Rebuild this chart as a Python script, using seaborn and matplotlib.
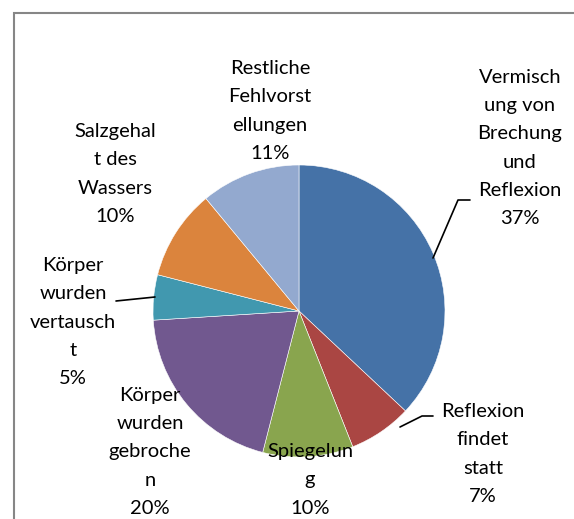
import matplotlib
matplotlib.use("Agg")
import matplotlib.pyplot as plt
import seaborn as sns

# slice data (clockwise from 12 o'clock)
labels = [
    "Vermisch\nung von\nBrechung\nund\nReflexion",
    "Reflexion\nfindet\nstatt",
    "Spiegelun\ng",
    "Körper\nwurden\ngebroche\nn",
    "Körper\nwurden\nvertausch\nt",
    "Salzgehal\nt des\nWassers",
    "Restliche\nFehlvorst\nellungen",
]
percent = [37, 7, 10, 20, 5, 10, 11]
colors = ["#4572A7", "#AA4643", "#89A54E", "#71588F", "#4198AF", "#DB843D", "#93A9CF"]

# label centres in pixel coords (from top-left)
label_pos = [(520, 148), (483, 454), (310, 480), (150, 452), (73, 322), (115, 174), (270, 111)]

W, H = 574, 519
sns.set_theme(style="white")
plt.rcParams["font.family"] = ["Lato", "DejaVu Sans"]

fig = plt.figure(figsize=(W / 100, H / 100), dpi=100)
ax = fig.add_axes([0, 0, 1, 1])


def fy(y):
    return H - y


ax.pie(percent, colors=colors, startangle=90, counterclock=False,
       center=(299, fy(311)), radius=146,
       wedgeprops=dict(edgecolor="white", linewidth=0.4))

# pie() resets limits, so set them afterwards
ax.set_xlim(0, W)
ax.set_ylim(0, H)
ax.set_aspect("equal")
ax.axis("off")

for lab, p, (x, y) in zip(labels, percent, label_pos):
    ax.text(x, fy(y), f"{lab}\n{p}%", ha="center", va="center",
            fontsize=14.5, color="black", linespacing=1.8)

# leader lines
ax.plot([433, 458, 470], [fy(258), fy(200), fy(200)], color="black", lw=1.2)
ax.plot([400, 422, 433], [fy(427), fy(416), fy(416)], color="black", lw=1.2)
ax.plot([116, 155], [fy(301), fy(297)], color="black", lw=1.2)

# chart frame
ax.plot([13.5, 13.5, W], [0, fy(12.5), fy(12.5)], color="#868686", lw=1.5,
        solid_joinstyle="miter")

fig.savefig("out.png", dpi=100, facecolor="white")
